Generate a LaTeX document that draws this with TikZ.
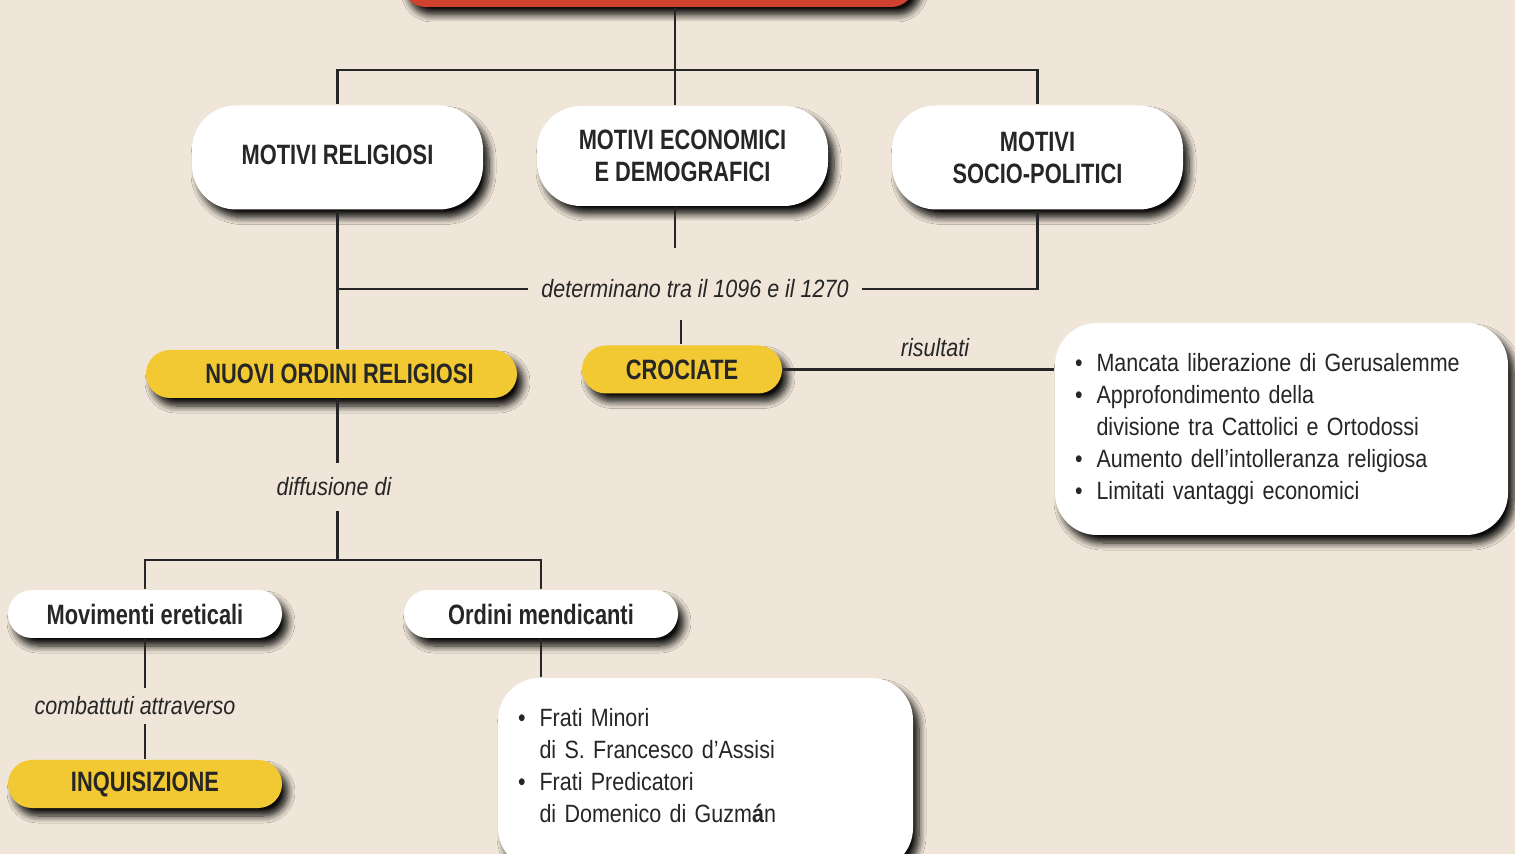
\documentclass[tikz,border=0pt]{standalone}
\usepackage{fontspec}
\setmainfont{Liberation Sans}[FakeStretch=0.86]
\newfontfamily\headfont{Liberation Sans}[FakeStretch=0.78]
\usetikzlibrary{shadows.blur,positioning}
\definecolor{paper}{RGB}{239,229,216}
\definecolor{myred}{RGB}{208,66,48}
\definecolor{myyellow}{RGB}{242,201,50}
\definecolor{ink}{RGB}{38,38,38}

\begin{document}
\begin{tikzpicture}[x=0.5pt, y=-0.5pt, line width=1.2pt, draw=ink,
	BoxShadow/.style={blur shadow={shadow xshift=3pt, shadow yshift=-4pt, shadow blur radius=3.5pt, shadow blur steps=8, shadow opacity=95}},
	WhiteBox/.style={BoxShadow, fill=white, rounded corners=22pt, minimum width=145.5pt, minimum height=52pt, align=center, text=ink, font=\fontsize{14}{16}\selectfont\headfont\bfseries},
	PillBox/.style={BoxShadow, fill=#1, rounded corners=12pt, minimum height=24pt, text=ink, font=\fontsize{14}{16}\selectfont\headfont\bfseries},
	ListBox/.style={BoxShadow, fill=white, rounded corners=21pt, inner xsep=10pt, align=left, text=ink, font=\fontsize{12.5}{16}\selectfont},
	Label/.style={text=ink, inner xsep=6pt, inner ysep=4pt, font=\fontsize{12.5}{15}\selectfont\itshape}]
	\fill[paper] (0,0) rectangle (1515,854);
	\useasboundingbox (0,0) rectangle (1515,854);
	\clip (0,0) rectangle (1515,854);
	% top title box (cut by the page edge)
	\node[BoxShadow, fill=myred, rounded corners=12pt, minimum width=256.5pt, minimum height=27pt] (top) at (658.5,-20) {};
	% motivi
	\node[WhiteBox, text depth=3pt] (rel) at (337.5,157.5) {MOTIVI RELIGIOSI};
	\node[WhiteBox, minimum height=50pt] (econ) at (682.5,156) {MOTIVI ECONOMICI\\E DEMOGRAFICI};
	\node[WhiteBox] (soc) at (1037.5,157.5) {MOTIVI\\SOCIO-POLITICI};
	\node[Label] (det) at (695,289) {determinano tra il 1096 e il 1270};
	% results
	\node[PillBox=myyellow, minimum width=185.5pt, text depth=0pt] (nuovi) at (331.5,374) {\hspace{8pt}NUOVI ORDINI RELIGIOSI};
	\node[PillBox=myyellow, minimum width=100pt] (cro) at (682,369.5) {CROCIATE};
	\node[Label] (risult) at (935,348) {risultati};
	\node[ListBox, text width=206.5pt, minimum height=106pt] (res) at (1281.5,429) {%
		\begin{tabular}{@{}l@{\hspace{7pt}}l@{}}
			\textbullet & Mancata liberazione di Gerusalemme\\
			\textbullet & Approfondimento della\\
			& divisione tra Cattolici e Ortodossi\\
			\textbullet & Aumento dell’intolleranza religiosa\\
			\textbullet & Limitati vantaggi economici
		\end{tabular}};
	\node[Label, inner ysep=7pt] (diff) at (334,487) {diffusione di};
	\node[PillBox=white, minimum width=137pt] (ered) at (145,614) {Movimenti ereticali};
	\node[PillBox=white, minimum width=137pt] (mend) at (541,614) {Ordini mendicanti};
	\node[Label] (comb) at (135,706) {combattuti attraverso};
	\node[PillBox=myyellow, minimum width=137pt] (inq) at (145,784) {INQUISIZIONE};
	\node[ListBox, text width=187.5pt, minimum height=96pt, text depth=35pt] (frati) at (705.5,774) {%
		\begin{tabular}{@{}l@{\hspace{7pt}}l@{}}
			\textbullet & Frati Minori\\
			& di S. Francesco d’Assisi\\
			\textbullet & Frati Predicatori\\
			& di Domenico di Guzm\textbf{á}n
		\end{tabular}};
	% connectors
	\coordinate (hub) at (675,70);
	\coordinate (econ end) at (675,248);
	\coordinate (cro top) at (681,320);
	\coordinate (split) at (337.5,560);
	\draw (top.south -| hub) -- (hub);
	\draw (rel.north) |- (hub) -| (soc.north);
	\draw (hub) -- (econ.north -| hub);
	\draw (econ.south -| hub) -- (econ end);
	\draw (rel.south) -- (rel.south |- nuovi.north);
	\draw (rel.south |- det.west) -- (det.west);
	\draw (det.east) -| (soc.south);
	\draw (cro top) -- (cro.north -| cro top);
	\draw (cro.east) -- (res.west |- cro.east);
	\draw (rel.south |- nuovi.south) -- (rel.south |- diff.north);
	\draw (rel.south |- diff.south) -- (split);
	\draw (ered.north) |- (split) -| (mend.north);
	\draw (ered.south) -- (ered.south |- comb.north);
	\draw (ered.south |- comb.south) -- (inq.north);
	\draw (mend.south) -- (mend.south |- frati.north);
\end{tikzpicture}
\end{document}
